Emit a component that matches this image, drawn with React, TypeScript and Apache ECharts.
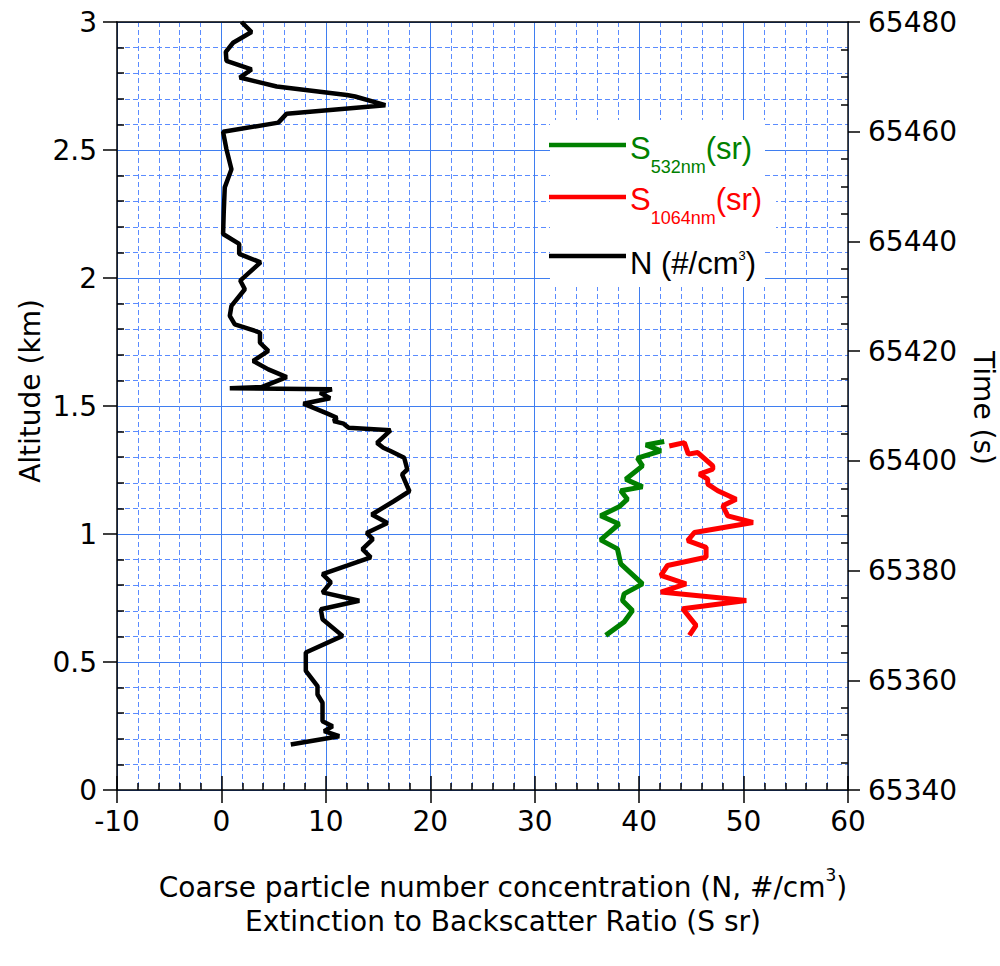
import React, { useEffect, useRef } from "react";
import * as echarts from "echarts";

// ---- Data ----
const nAltitude = [
  3.0, 2.961, 2.919, 2.883, 2.848, 2.815, 2.783, 2.748, 2.715, 2.709, 2.675, 2.642, 2.607, 2.571,
  2.503, 2.425, 2.354, 2.256, 2.172, 2.133, 2.094, 2.061, 1.99, 1.956, 1.891, 1.852, 1.819, 1.787,
  1.747, 1.715, 1.676, 1.643, 1.613, 1.574, 1.569, 1.565, 1.552, 1.53, 1.509, 1.471, 1.454, 1.441,
  1.431, 1.415, 1.405, 1.356, 1.337, 1.324, 1.298, 1.252, 1.233, 1.167, 1.128, 1.076, 1.043, 1.004,
  0.98, 0.941, 0.909, 0.843, 0.811, 0.772, 0.739, 0.706, 0.667, 0.602, 0.537, 0.465, 0.406, 0.373,
  0.341, 0.269, 0.249, 0.23, 0.21, 0.178,
];
const nConcentration = [
  1.92, 2.88, 1.12, 0.42, 0.48, 2.88, 1.76, 5.29, 12.0, 12.8, 15.7, 6.25, 5.45, 0.16,
  0.48, 0.96, 0.32, 0.22, 0.16, 1.7, 1.7, 3.75, 1.8, 2.24, 0.96, 0.8, 1.28, 3.69,
  3.69, 4.49, 3.04, 4.49, 6.25, 3.85, 0.8, 10.58, 9.46, 10.4, 7.85, 10.1, 11.06, 10.74,
  11.7, 12.18, 16.19, 14.9, 15.5, 16.19, 17.5, 17.8, 17.3, 18.0, 16.5, 14.4, 15.9, 13.9,
  14.5, 13.5, 14.3, 9.68, 10.48, 9.68, 13.2, 9.52, 9.68, 11.6, 8.08, 8.08, 9.2, 9.2,
  9.68, 9.68, 10.64, 9.84, 11.28, 6.64,
];

const s532Altitude = [
  1.361, 1.348, 1.325, 1.296, 1.266, 1.214, 1.184, 1.169, 1.136, 1.106, 1.071, 1.039, 0.977,
  0.942, 0.883, 0.805, 0.766, 0.74, 0.701, 0.656, 0.604,
];
const s532Values = [
  42.4, 40.64, 42.08, 39.84, 40.32, 38.72, 40.32, 38.24, 38.88, 38.08, 36.31, 38.08, 36.31,
  37.92, 38.24, 40.32, 38.56, 38.4, 39.36, 38.56, 36.8,
];

const s1064Altitude = [
  1.344, 1.357, 1.312, 1.318, 1.266, 1.253, 1.234, 1.214, 1.195, 1.169, 1.136, 1.11, 1.071,
  1.045, 1.006, 0.974, 0.948, 0.909, 0.877, 0.838, 0.805, 0.773, 0.74, 0.708, 0.643, 0.604,
];
const s1064Values = [
  42.88, 44.33, 44.71, 45.61, 47.05, 47.05, 45.77, 46.57, 46.57, 47.53, 49.29, 48.01, 48.49,
  50.9, 45.29, 44.65, 46.41, 46.41, 42.72, 42.08, 44.49, 42.08, 50.26, 44.17, 45.45, 44.81,
];

// axis ranges
const xRange = { min: -10, max: 60, interval: 10 };
const altRange = { min: 0, max: 3, interval: 0.5 };
const timeRange = { min: 65340, max: 65480, interval: 20 };

const FONT = "DejaVu Sans";
const LEGEND_FONT = "Liberation Sans";
const MAJOR_GRID = "#3f7ef0";
const MINOR_GRID = "#5b8cff";

function zip(xs: number[], ys: number[]) {
  return xs.map((x, i) => [x, ys[i]]);
}

function minorValues(min: number, max: number, step: number, majorEvery: number) {
  const out: number[] = [];
  const n = Math.round((max - min) / step);
  for (let i = 0; i <= n; i++) {
    if (i % majorEvery !== 0) out.push(+(min + i * step).toFixed(4));
  }
  return out;
}

export default function App() {
  const ref = useRef<HTMLDivElement>(null);

  useEffect(() => {
    if (!ref.current) return;
    const chart = echarts.init(ref.current, undefined, { renderer: "svg" });

    const blackLine = { color: "#000", width: 1.5 };
    const hidden = {
      axisLabel: { show: false },
      splitLine: { show: false },
      minorSplitLine: { show: false },
      splitArea: { show: false },
    };

    const option: any = {
      animation: false,
      textStyle: { fontFamily: FONT },
      grid: { left: 117, right: 152, top: 22, bottom: 176, outerBoundsMode: "none" },
      xAxis: [
        {
          type: "value",
          position: "bottom",
          ...xRange,
          axisLine: { show: true, onZero: false, lineStyle: blackLine },
          axisTick: { show: true, inside: false, length: 13, lineStyle: blackLine },
          axisLabel: { margin: 17, fontSize: 28, fontFamily: FONT, color: "#000", showMinLabel: true, showMaxLabel: true, formatter: (v: number) => String(v) },
          splitLine: { show: true, lineStyle: { color: MAJOR_GRID, width: 1 } },
          minorTick: { show: false, splitNumber: 5 },
          minorSplitLine: { show: true, lineStyle: { color: MINOR_GRID, width: 1, type: [5, 3] } },
        },
        {
          type: "value",
          position: "bottom",
          ...xRange,
          axisLine: { show: false, onZero: false },
          axisTick: { show: true, inside: true, length: 14, lineStyle: blackLine },
          minorTick: { show: true, splitNumber: 5, length: 7, lineStyle: blackLine },
          ...hidden,
        },
        {
          type: "value",
          position: "top",
          ...xRange,
          axisLine: { show: true, onZero: false, lineStyle: blackLine },
          axisTick: { show: false },
          ...hidden,
        },
      ],
      yAxis: [
        {
          type: "value",
          position: "left",
          ...altRange,
          axisLine: { show: true, onZero: false, lineStyle: blackLine },
          axisTick: { show: true, inside: false, length: 14, lineStyle: blackLine },
          axisLabel: { margin: 20, fontSize: 28, fontFamily: FONT, color: "#000", showMinLabel: true, showMaxLabel: true, formatter: (v: number) => String(v) },
          splitLine: { show: true, lineStyle: { color: MAJOR_GRID, width: 1 } },
          minorTick: { show: false, splitNumber: 5 },
          minorSplitLine: { show: false },
        },
        {
          type: "value",
          position: "left",
          min: 0,
          max: 3,
          interval: 0.1,
          axisLine: { show: false, onZero: false },
          axisTick: { show: true, inside: true, length: 7, lineStyle: blackLine, customValues: minorValues(0, 3, 0.1, 5) },
          axisLabel: { show: false },
          splitLine: { show: true, lineStyle: { color: MINOR_GRID, width: 1, type: [5, 3] } },
          minorSplitLine: { show: false },
        },
        {
          type: "value",
          position: "right",
          ...timeRange,
          axisLine: { show: true, onZero: false, lineStyle: { color: "#111", width: 1.5 } },
          axisTick: { show: true, inside: false, length: 12, lineStyle: blackLine },
          axisLabel: { margin: 20, fontSize: 28, fontFamily: FONT, color: "#000", showMinLabel: true, showMaxLabel: true, formatter: (v: number) => String(v) },
          splitLine: { show: false },
          minorSplitLine: { show: false },
        },
        {
          type: "value",
          position: "right",
          min: 65340,
          max: 65480,
          interval: 5,
          axisLine: { show: false, onZero: false },
          axisTick: { show: true, inside: true, length: 7, lineStyle: blackLine, customValues: minorValues(65340, 65480, 5, 4) },
          ...hidden,
        },
      ],
      series: [
        {
          name: "N (#/cm3)",
          type: "line",
          xAxisIndex: 0,
          yAxisIndex: 0,
          data: zip(nConcentration, nAltitude),
          symbol: "none",
          lineStyle: { color: "#000", width: 4.5 },
          z: 5,
        },
        {
          name: "S532nm (sr)",
          type: "line",
          xAxisIndex: 0,
          yAxisIndex: 0,
          data: zip(s532Values, s532Altitude),
          symbol: "none",
          lineStyle: { color: "#008000", width: 5 },
          z: 5,
        },
        {
          name: "S1064nm (sr)",
          type: "line",
          xAxisIndex: 0,
          yAxisIndex: 0,
          data: zip(s1064Values, s1064Altitude),
          symbol: "none",
          lineStyle: { color: "#ff0000", width: 5 },
          z: 5,
        },
      ],
      graphic: [
        { type: "rect", z: 10, shape: { x: 550, y: 120, width: 215, height: 167 }, style: { fill: "#fff" } },
        { type: "rect", z: 10, shape: { x: 550, y: 188, width: 226, height: 46 }, style: { fill: "#fff" } },
        { type: "line", z: 11, shape: { x1: 549, y1: 145, x2: 626, y2: 145 }, style: { stroke: "#008000", lineWidth: 4.5 } },
        { type: "line", z: 11, shape: { x1: 549, y1: 197, x2: 626, y2: 197 }, style: { stroke: "#ff0000", lineWidth: 4.5 } },
        { type: "line", z: 11, shape: { x1: 549, y1: 256, x2: 626, y2: 256 }, style: { stroke: "#000", lineWidth: 4.5 } },
        {
          type: "text",
          z: 11,
          x: 630,
          y: 148,
          style: {
            text: "{m|S}{s|532nm}{m|(sr)}",
            fill: "#008000",
            verticalAlign: "middle",
            align: "left",
            rich: {
              m: { fontSize: 31, fontFamily: LEGEND_FONT, fill: "#008000" },
              s: { fontSize: 18, fontFamily: LEGEND_FONT, fill: "#008000", padding: [38, 0, 0, 0] },
            },
          },
        },
        {
          type: "text",
          z: 11,
          x: 630,
          y: 199,
          style: {
            text: "{m|S}{s|1064nm}{m|(sr)}",
            fill: "#ff0000",
            verticalAlign: "middle",
            align: "left",
            rich: {
              m: { fontSize: 31, fontFamily: LEGEND_FONT, fill: "#ff0000" },
              s: { fontSize: 18, fontFamily: LEGEND_FONT, fill: "#ff0000", padding: [38, 0, 0, 0] },
            },
          },
        },
        {
          type: "text",
          z: 11,
          x: 630,
          y: 263,
          style: {
            text: "{m|N (#/cm}{p|3}{m|)}",
            fill: "#000",
            verticalAlign: "middle",
            align: "left",
            rich: {
              m: { fontSize: 31, fontFamily: LEGEND_FONT, fill: "#000" },
              p: { fontSize: 13, fontFamily: LEGEND_FONT, fill: "#000", padding: [0, 0, 16, 0] },
            },
          },
        },
        {
          type: "text",
          x: 503,
          y: 887,
          style: {
            text: "{a|Coarse particle number concentration (N, #/cm}{p|3}{a|)}",
            align: "center",
            verticalAlign: "middle",
            rich: {
              a: { fontSize: 28, fontFamily: FONT, fill: "#000" },
              p: { fontSize: 17, fontFamily: FONT, fill: "#000", padding: [0, 0, 24, 0] },
            },
          },
        },
        {
          type: "text",
          x: 503,
          y: 921,
          style: {
            text: "Extinction to Backscatter Ratio (S sr)",
            fontSize: 28,
            fontFamily: FONT,
            fill: "#000",
            align: "center",
            verticalAlign: "middle",
          },
        },
        {
          type: "text",
          x: 30,
          y: 391,
          rotation: Math.PI / 2,
          style: {
            text: "Altitude (km)",
            fontSize: 28,
            fontFamily: FONT,
            fill: "#000",
            align: "center",
            verticalAlign: "middle",
          },
        },
        {
          type: "text",
          x: 983,
          y: 408,
          rotation: -Math.PI / 2,
          style: {
            text: "Time (s)",
            fontSize: 28,
            fontFamily: FONT,
            fill: "#000",
            align: "center",
            verticalAlign: "middle",
          },
        },
      ],
    };

    chart.setOption(option);
    return () => chart.dispose();
  }, []);

  return (
    <div
      ref={ref}
      style={{ position: "fixed", left: 0, top: 0, width: 1000, height: 966, background: "#fff" }}
    />
  );
}
